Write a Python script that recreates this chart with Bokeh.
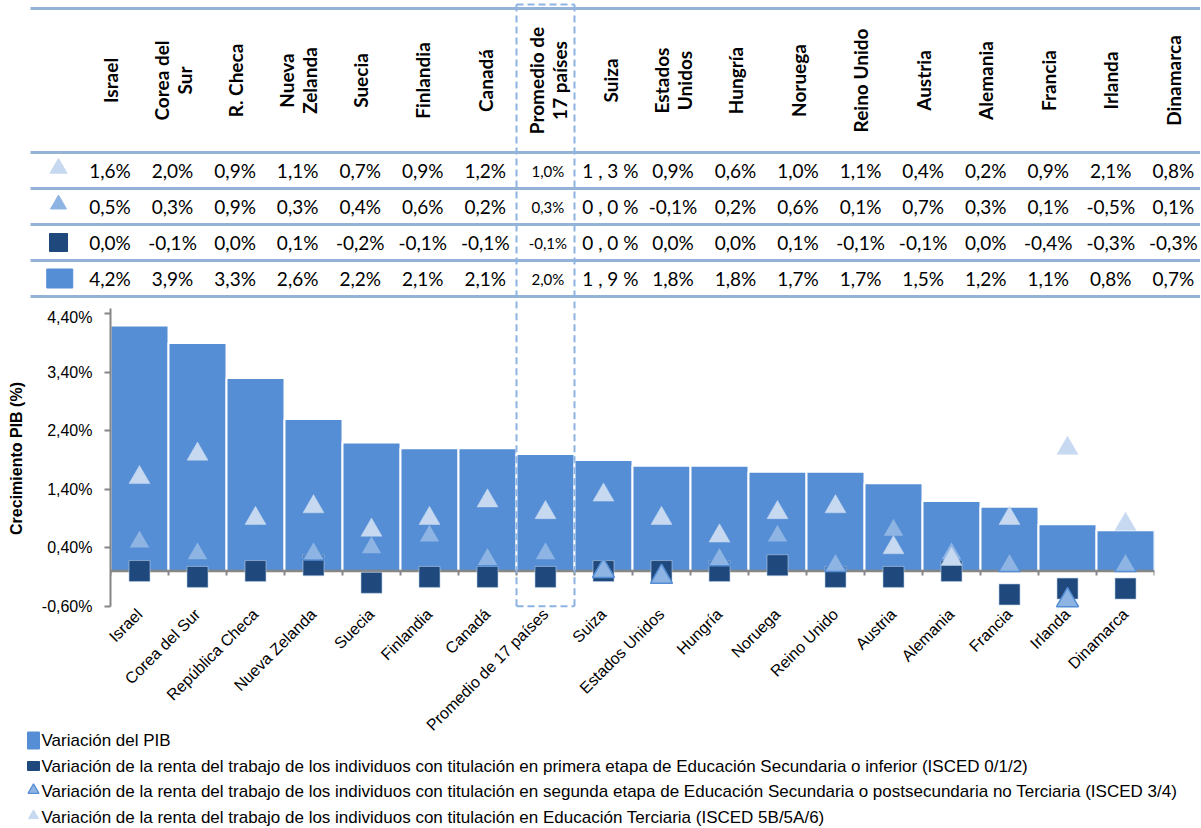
import math
from bokeh.plotting import figure
from bokeh.models import (ColumnDataSource, FactorRange, Range1d, FixedTicker,
                          CustomJSTickFormatter)
from bokeh.core.properties import value
from bokeh.embed import file_html
from bokeh.resources import INLINE

# ---------------- data ----------------
header_labels = ["Israel", "Corea del\nSur", "R. Checa", "Nueva\nZelanda", "Suecia",
                 "Finlandia", "Canadá", "Promedio de\n17 países", "Suiza",
                 "Estados\nUnidos", "Hungría", "Noruega", "Reino Unido", "Austria",
                 "Alemania", "Francia", "Irlanda", "Dinamarca"]
countries = ["Israel", "Corea del Sur", "República Checa", "Nueva Zelanda", "Suecia",
             "Finlandia", "Canadá", "Promedio de 17 países", "Suiza", "Estados Unidos",
             "Hungría", "Noruega", "Reino Unido", "Austria", "Alemania", "Francia",
             "Irlanda", "Dinamarca"]
average_label = "Promedio de 17 países"
spaced_label = "Suiza"

gdp = [4.2, 3.9, 3.3, 2.6, 2.2, 2.1, 2.1, 2.0, 1.9, 1.8, 1.8, 1.7, 1.7, 1.5, 1.2, 1.1, 0.8, 0.7]
lower_sec = [0.0, -0.1, 0.0, 0.1, -0.2, -0.1, -0.1, -0.1, 0.0, 0.0, 0.0, 0.1, -0.1, -0.1, 0.0, -0.4, -0.3, -0.3]
upper_sec = [0.5, 0.3, 0.9, 0.3, 0.4, 0.6, 0.2, 0.3, 0.0, -0.1, 0.2, 0.6, 0.1, 0.7, 0.3, 0.1, -0.5, 0.1]
tertiary = [1.6, 2.0, 0.9, 1.1, 0.7, 0.9, 1.2, 1.0, 1.3, 0.9, 0.6, 1.0, 1.1, 0.4, 0.2, 0.9, 2.1, 0.8]

y_ticks = [-0.6, 0.4, 1.4, 2.4, 3.4, 4.4]
y_label = "Crecimiento PIB (%)"

legend_labels = [
    "Variación del PIB",
    "Variación de la renta del trabajo de los individuos con titulación en primera etapa de Educación Secundaria o inferior (ISCED 0/1/2)",
    "Variación de la renta del trabajo de los individuos con titulación en segunda etapa de Educación Secundaria o postsecundaria no Terciaria (ISCED 3/4)",
    "Variación de la renta del trabajo de los individuos con titulación en Educación Terciaria (ISCED 5B/5A/6)",
]

# ---------------- styles ----------------
C_GDP = "#558ED5"
C_LOW = "#1F497D"
C_UP = "#8EB4E3"
C_UP_LINE = "#558ED5"
C_TER = "#C6D9F1"
C_RULE = "#95B3D7"
C_BOX = "#8DB3E2"
C_AXIS = "#868686"
TXT = "#000000"
F_ARIAL = "Liberation Sans"
F_TABLE = "Lato"

W = 1200
N = len(countries)
K_AVG = countries.index(average_label)

# table geometry (pixels)
TABLE_H = 308
COL0 = 109.5
COL_W = 62.55
ROW0 = 170
ROW_H = 36

# chart geometry
FRAME_LEFT = 110
CAT_W = 58
FRAME_W = CAT_W * N
FRAME_H = 300
Y_START, Y_END = -0.64, 4.49
BOTTOM_BORDER = 145

# legend geometry
LEGEND_OVERLAP = 30
LEGEND_H = 827 - TABLE_H - FRAME_H - BOTTOM_BORDER + LEGEND_OVERLAP
LROW0 = 17
LROW_H = 25.5


def fmt(v, spaced=False):
    s = f"{v:.1f}".replace(".", ",") + "%"
    return " ".join(s) if spaced else s


# ---------------- table figure ----------------
tx0 = -COL0 / COL_W
tx1 = (W - COL0) / COL_W
ty_top = ROW0 / ROW_H
ty_bot = -(TABLE_H - ROW0) / ROW_H

table = figure(width=W, height=TABLE_H, x_range=Range1d(tx0, tx1),
               y_range=Range1d(ty_bot, ty_top), output_backend="svg",
               toolbar_location=None, min_border=0, x_axis_location=None,
               y_axis_location=None, outline_line_color=None)
table.xgrid.visible = False
table.ygrid.visible = False

# horizontal rules
rule_y = [(ROW0 - 8) / ROW_H] + [0.5 - k for k in range(5)]
rule_x0 = tx0 + 30 / COL_W
table.segment(x0=[rule_x0] * len(rule_y), x1=[tx1] * len(rule_y), y0=rule_y, y1=rule_y,
              line_color=C_RULE, line_width=3)

# highlighted average column (dashed), aligned with the chart's category bounds
box_l = (FRAME_LEFT + K_AVG * CAT_W - COL0) / COL_W
box_r = (FRAME_LEFT + (K_AVG + 1) * CAT_W - COL0) / COL_W
table.segment(x0=[box_l, box_r, box_l], x1=[box_l, box_r, box_r],
              y0=[ty_bot, ty_bot, ty_top - 4 / ROW_H], y1=[ty_top, ty_top, ty_top - 4 / ROW_H],
              line_color=C_BOX, line_width=2, line_dash="7 4")

# header
head_src = ColumnDataSource(dict(x=list(range(N)), y=[(ROW0 - 80) / ROW_H] * N, t=header_labels))
table.text(x="x", y="y", text="t", source=head_src, angle=math.pi / 2,
           text_font=value(F_TABLE), text_font_style="bold", text_font_size=value("19px"),
           text_align="center", text_baseline="middle", text_color=TXT, text_line_height=1.0)

# values
rows = [tertiary, upper_sec, lower_sec, gdp]
xs, ys, ts, fs = [], [], [], []
for r, series in enumerate(rows):
    for i, v in enumerate(series):
        xs.append(i)
        ys.append(-r)
        ts.append(fmt(v, spaced=(countries[i] == spaced_label)))
        fs.append("15px" if countries[i] == average_label else "19px")
val_src = ColumnDataSource(dict(x=xs, y=ys, t=ts, fs=fs))
table.text(x="x", y="y", text="t", text_font_size="fs", source=val_src,
           text_font=value(F_TABLE), text_align="center", text_baseline="middle",
           text_color=TXT)

# row icons
icon_x = (58 - COL0) / COL_W
table.scatter(x=[icon_x], y=[0 + 0.06], marker="triangle", size=17, fill_color=C_TER,
              line_color=C_TER)
table.scatter(x=[icon_x], y=[-1 + 0.06], marker="triangle", size=16, fill_color=C_UP,
              line_color=C_UP)
table.scatter(x=[icon_x], y=[-2], marker="square", size=18, fill_color=C_LOW,
              line_color=C_LOW)
table.rect(x=[icon_x + 0.02], y=[-3], width=26, height=19, width_units="screen",
           height_units="screen", fill_color=C_GDP, line_color=C_GDP)

# ---------------- chart figure ----------------
src = ColumnDataSource(dict(country=countries, gdp=gdp, low=lower_sec, up=upper_sec,
                            ter=tertiary))

chart = figure(x_range=FactorRange(*countries, range_padding=0),
               y_range=Range1d(Y_START, Y_END), width=W, height=FRAME_H + BOTTOM_BORDER,
               min_border_left=FRAME_LEFT, min_border_right=W - FRAME_LEFT - FRAME_W,
               min_border_top=0, min_border_bottom=BOTTOM_BORDER,
               output_backend="svg", toolbar_location=None, outline_line_color=None)
chart.xgrid.visible = False
chart.ygrid.visible = False

chart.vbar(x="country", top="gdp", bottom=0, width=1.0, source=src, fill_color=C_GDP,
           line_color="white", line_width=2)

# zero line and category boundary ticks
chart.segment(x0=[0], x1=[N], y0=[0], y1=[0], line_color=C_AXIS, line_width=2.5)
bx = list(range(N + 1))
chart.segment(x0=bx, x1=bx, y0=[0] * len(bx), y1=[-0.075] * len(bx), line_color=C_AXIS,
              line_width=2)

chart.scatter(x="country", y="low", source=src, marker="square", size=21,
              fill_color=C_LOW, line_color="#B9CDE5", line_width=0.6)
chart.scatter(x="country", y="up", source=src, marker="triangle", size=22,
              fill_color=C_UP, line_color=C_UP_LINE, line_width=1.5)
chart.scatter(x="country", y="ter", source=src, marker="triangle", size=21,
              fill_color=C_TER, line_color=C_TER, line_width=0.5)

# dashed highlight of the average column
chart.segment(x0=[K_AVG, K_AVG + 1, K_AVG], x1=[K_AVG, K_AVG + 1, K_AVG + 1],
              y0=[y_ticks[0], y_ticks[0], y_ticks[0]], y1=[Y_END, Y_END, y_ticks[0]],
              line_color=C_BOX, line_width=2, line_dash="7 4")

ya = chart.yaxis[0]
ya.ticker = FixedTicker(ticks=y_ticks)
ya.formatter = CustomJSTickFormatter(code="return tick.toFixed(2).replace('.', ',') + '%';")
ya.bounds = (y_ticks[0], Y_END)
ya.axis_line_color = C_AXIS
ya.axis_line_width = 2
ya.major_tick_line_color = C_AXIS
ya.major_tick_line_width = 2
ya.major_tick_out = 6
ya.major_tick_in = 0
ya.minor_tick_line_color = None
ya.major_label_text_font = F_ARIAL
ya.major_label_text_font_size = "16px"
ya.major_label_text_color = TXT
ya.major_label_standoff = 12
ya.axis_label = y_label
ya.axis_label_text_font = F_ARIAL
ya.axis_label_text_font_style = "bold"
ya.axis_label_text_font_size = "16px"
ya.axis_label_text_color = TXT
ya.axis_label_standoff = 14

xa = chart.xaxis[0]
xa.axis_line_color = None
xa.major_tick_line_color = None
xa.major_tick_out = 0
xa.major_tick_in = 0
xa.minor_tick_line_color = None
xa.major_label_orientation = math.pi / 4
xa.major_label_text_font = F_ARIAL
xa.major_label_text_font_size = "16px"
xa.major_label_text_color = TXT
xa.major_label_standoff = 3

# ---------------- legend figure (overlapping the empty border below the chart) ----
legend = figure(width=W, height=LEGEND_H, x_range=Range1d(0, W),
                y_range=Range1d(-(LEGEND_H - LROW0) / LROW_H, LROW0 / LROW_H),
                output_backend="svg", toolbar_location=None, min_border=0,
                x_axis_location=None, y_axis_location=None, outline_line_color=None,
                background_fill_color=None, border_fill_color=None,
                margin=(-LEGEND_OVERLAP, 0, 0, 0))
legend.xgrid.visible = False
legend.ygrid.visible = False

ICON_X = 33
legend.rect(x=[ICON_X], y=[0], width=12, height=17, width_units="screen",
            height_units="screen", fill_color=C_GDP, line_color=C_GDP)
legend.rect(x=[ICON_X], y=[-1], width=12, height=9, width_units="screen",
            height_units="screen", fill_color=C_LOW, line_color=C_LOW)
legend.scatter(x=[ICON_X], y=[-2 + 0.05], marker="triangle", size=11, fill_color=C_UP,
               line_color=C_UP_LINE, line_width=1.2)
legend.scatter(x=[ICON_X], y=[-3 + 0.05], marker="triangle", size=10, fill_color=C_TER,
               line_color=C_TER)
leg_src = ColumnDataSource(dict(x=[ICON_X + 8] * 4, y=[0, -1, -2, -3], t=legend_labels))
legend.text(x="x", y="y", text="t", source=leg_src, text_font=value(F_ARIAL),
            text_font_size=value("17px"), text_align="left", text_baseline="middle",
            text_color=TXT)

p = [table, chart, legend]
open("out.html", "w").write(file_html(p, INLINE))
